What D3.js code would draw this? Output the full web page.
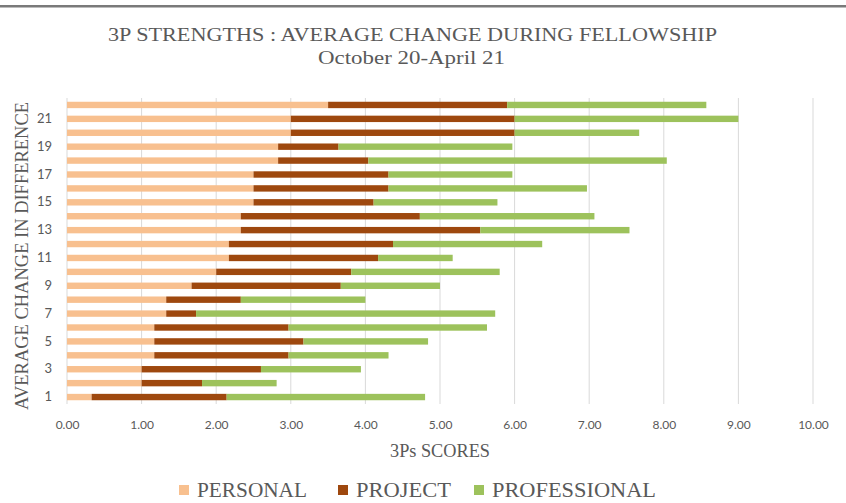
<!DOCTYPE html>
<html lang="en">
<head>
    <meta charset="UTF-8">
    <title>3P Strengths</title>
    <script src="https://d3js.org/d3.v7.min.js"></script>
    <style>
        body { margin: 0; background: white; }
        .serif { font-family: "Liberation Serif", "DejaVu Serif", serif; fill: #595959; }
        .tick text { font-family: Lato, "Open Sans", sans-serif; fill: #595959; font-size: 12px; }
    </style>
</head>
<body>
    <svg id="chart" width="846" height="503"></svg>
    <script>
        // data, one value per row (row 1 at bottom)
        const rows = d3.range(1, 23);
        const personal = [0.33, 1.00, 1.00, 1.17, 1.17, 1.17, 1.33, 1.33, 1.67, 2.00, 2.17,
                          2.17, 2.33, 2.33, 2.50, 2.50, 2.50, 2.83, 2.83, 3.00, 3.00, 3.50];
        const project = [1.81, 0.81, 1.60, 1.80, 2.00, 1.80, 0.40, 1.00, 2.00, 1.81, 2.00,
                         2.20, 3.21, 2.40, 1.61, 1.81, 1.81, 1.21, 0.81, 3.00, 3.00, 2.40];
        const professional = [2.66, 1.00, 1.34, 1.34, 1.67, 2.66, 4.01, 1.67, 1.33, 1.99, 1.00,
                              2.00, 2.00, 2.34, 1.66, 2.66, 1.66, 4.00, 2.33, 1.67, 3.00, 2.67];
        const seriesNames = ["PERSONAL", "PROJECT", "PROFESSIONAL"];
        const colors = ["#F8C08F", "#9E480E", "#9DC25C"];
        const xTicks = d3.range(0, 11);
        const yTickLabels = rows.filter(r => r % 2 === 1);

        const table = rows.map((r, i) => ({
            row: r, PERSONAL: personal[i], PROJECT: project[i], PROFESSIONAL: professional[i]
        }));
        const stacked = d3.stack().keys(seriesNames)(table);

        const svg = d3.select("#chart");

        // top rule
        svg.append("rect").attr("x", 0).attr("y", 5).attr("width", 846).attr("height", 2.5).attr("fill", "#7a7a7a");

        const x = d3.scaleLinear().domain([0, 10]).range([67, 813]);
        const y = d3.scaleBand().domain(rows.slice().reverse()).range([98, 404]).paddingInner(0.54).paddingOuter(0.27);

        // gridlines
        svg.append("g").selectAll("line")
            .data(xTicks)
            .join("line")
            .attr("x1", d => x(d)).attr("x2", d => x(d))
            .attr("y1", 98).attr("y2", 404)
            .attr("stroke", "#d9d9d9").attr("stroke-width", 1);

        // bars
        svg.append("g").selectAll("g")
            .data(stacked)
            .join("g")
            .attr("fill", (d, i) => colors[i])
            .selectAll("rect")
            .data(d => d)
            .join("rect")
            .attr("x", d => x(d[0]))
            .attr("width", d => x(d[1]) - x(d[0]))
            .attr("y", d => y(d.data.row))
            .attr("height", y.bandwidth());

        // x axis
        const xAxis = svg.append("g")
            .attr("transform", "translate(0,404)")
            .call(d3.axisBottom(x).tickValues(xTicks).tickFormat(d3.format(".2f")).tickSize(0).tickPadding(16));
        xAxis.select(".domain").remove();

        // y axis
        const yAxis = svg.append("g")
            .attr("transform", "translate(52,0)")
            .call(d3.axisLeft(y).tickValues(yTickLabels).tickSize(0).tickPadding(0));
        yAxis.select(".domain").remove();
        yAxis.selectAll("text").style("font-size", "13px");

        // titles
        svg.append("text").attr("class", "serif")
            .attr("x", 412.5).attr("y", 41).attr("text-anchor", "middle")
            .attr("font-size", 19).attr("textLength", 609).attr("lengthAdjust", "spacingAndGlyphs")
            .text("3P STRENGTHS : AVERAGE CHANGE DURING FELLOWSHIP");
        svg.append("text").attr("class", "serif")
            .attr("x", 411.5).attr("y", 64).attr("text-anchor", "middle")
            .attr("font-size", 19).attr("textLength", 187).attr("lengthAdjust", "spacingAndGlyphs")
            .text("October 20-April 21");

        svg.append("text").attr("class", "serif")
            .attr("x", 440).attr("y", 457).attr("text-anchor", "middle")
            .attr("font-size", 18).attr("textLength", 100).attr("lengthAdjust", "spacingAndGlyphs")
            .text("3Ps SCORES");

        svg.append("text").attr("class", "serif")
            .attr("transform", "translate(28,256) rotate(-90)")
            .attr("text-anchor", "middle")
            .attr("font-size", 18).attr("textLength", 308).attr("lengthAdjust", "spacingAndGlyphs")
            .text("AVERAGE CHANGE IN DIFFERENCE");

        // legend
        const legendX = [179, 338, 474];
        const legendLen = [110, 95, 164];
        const legend = svg.append("g").selectAll("g")
            .data(seriesNames)
            .join("g")
            .attr("transform", (d, i) => `translate(${legendX[i]},497)`);
        legend.append("rect")
            .attr("x", 0).attr("y", -12).attr("width", 10).attr("height", 10)
            .attr("fill", (d, i) => colors[i]);
        legend.append("text").attr("class", "serif")
            .attr("x", 18).attr("y", 0)
            .attr("font-size", 22)
            .attr("textLength", (d, i) => legendLen[i]).attr("lengthAdjust", "spacingAndGlyphs")
            .text(d => d);
    </script>
</body>
</html>
